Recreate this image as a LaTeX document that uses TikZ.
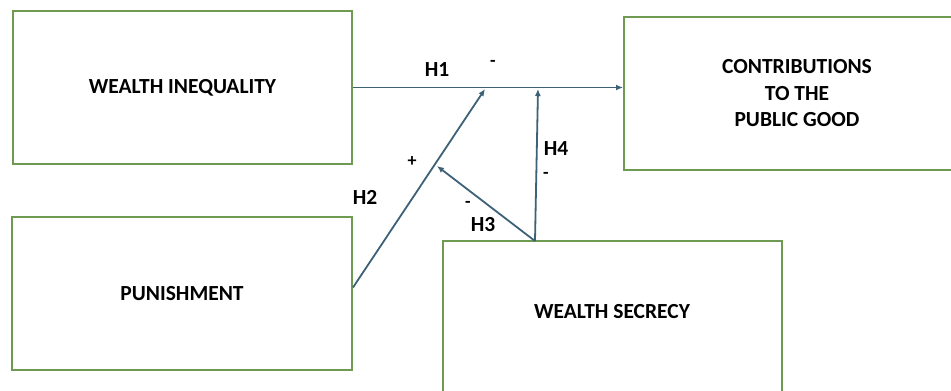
\documentclass[tikz,border=0pt]{standalone}
\usepackage{fontspec}
\setmainfont{Carlito}
\usetikzlibrary{positioning,arrows.meta}
\definecolor{boxgreen}{HTML}{6E9A52}
\definecolor{linkblue}{HTML}{3D6177}
\tikzset{box/.style={draw=boxgreen,line width=2pt,fill=white,align=center,inner sep=0pt,font=\bfseries\fontsize{21.5}{26.5}\selectfont}}
\tikzset{link/.style={draw=linkblue,line width=1.8pt,-{Latex[length=7pt,width=6pt]}}}
\tikzset{hyp/.style={font=\bfseries\fontsize{21.5}{24}\selectfont}}
\tikzset{sign/.style={font=\bfseries\fontsize{18}{20}\selectfont}}

\begin{document}
\begin{tikzpicture}[x=1pt,y=-1pt]
    \useasboundingbox (0,0) rectangle (951,391);
    \clip (0,0) rectangle (951,391);
    \fill[white] (0,0) rectangle (951,391);
    % boxes
    \node[box,minimum width=339pt,minimum height=153pt] (ineq) at (182.5,87.5) {WEALTH INEQUALITY};
    \node[box,minimum width=340pt,minimum height=153pt] (punish) at (182,293.5) {PUNISHMENT};
    \node[box,minimum width=346pt,minimum height=153pt] (contrib) at (797,93.5) {CONTRIBUTIONS\\TO THE\\PUBLIC GOOD};
    \node[box,minimum width=339pt,minimum height=160pt] (secrecy) at (612.5,321) {};
    \node[box,draw=none,fill=none] (secrecytxt) at (612,312) {WEALTH SECRECY};
    % end points on the lines
    \coordinate (h2tip) at (485,89);
    \coordinate (h3tip) at (437,166);
    \coordinate (h4tip) at (538,89);
    \coordinate (stop) at (535,241);
    % links
    \draw[link] (ineq.east) -- (ineq.east -| contrib.west);
    \draw[link] ([yshift=6pt]punish.east) -- (h2tip);
    \draw[link] (stop) -- (h3tip);
    \draw[link] (stop) -- (h4tip);
    % labels
    \node[hyp] (h1) at (437,70) {H1};
    \node[sign] (s1) at (493,63) {-};
    \node[hyp] (h2) at (365,197) {H2};
    \node[sign] (s2) at (412,162) {+};
    \node[hyp] (h3) at (483,225) {H3};
    \node[sign] (s3) at (468,204) {-};
    \node[hyp] (h4) at (556,149) {H4};
    \node[sign] (s4) at (546,175) {-};
\end{tikzpicture}
\end{document}
